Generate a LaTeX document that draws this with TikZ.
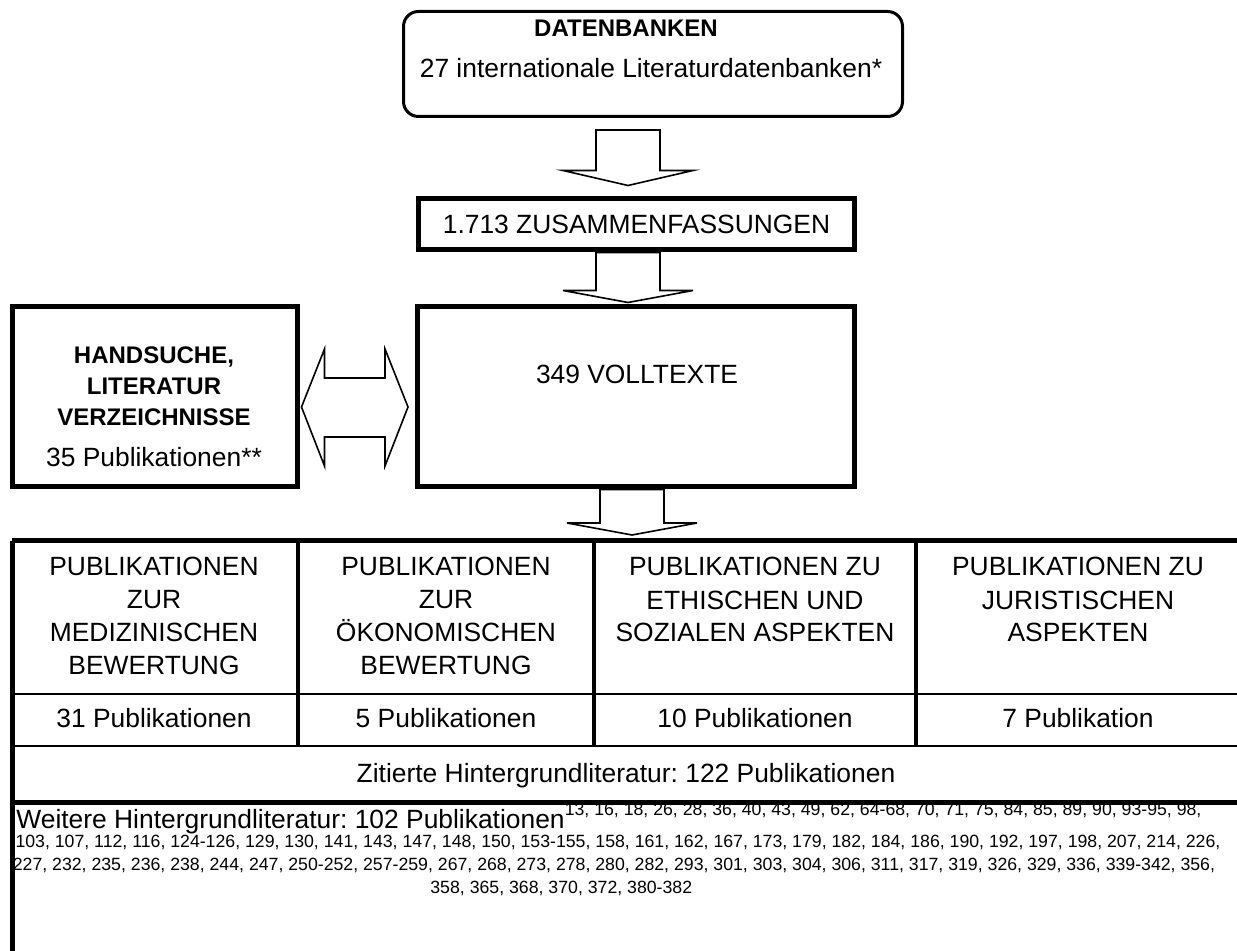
\documentclass[tikz,border=0pt]{standalone}
\usepackage{fontspec}
\setmainfont{Liberation Sans}
\frenchspacing
\usetikzlibrary{calc}

\newcommand{\txtnorm}{\fontsize{13.2}{16.5}\selectfont}
\newcommand{\txtbold}{\fontsize{12}{15.5}\selectfont\bfseries}
\newcommand{\txtsmall}{\fontsize{8.85}{11.5}\selectfont}

% hollow block arrow pointing down: top centre, tip, head length
\newcommand{\blockdown}[3]{%
  \draw[hollow] ($(#1)+(-32,0)$) -- ($(#2)+(-32,-#3)$) -- ($(#2)+(-65,-#3)$) -- (#2)
    -- ($(#2)+(65,-#3)$) -- ($(#2)+(32,-#3)$) -- ($(#1)+(32,0)$) -- cycle;}

% hollow double arrow: left tip, right tip
\newcommand{\blockboth}[2]{%
  \draw[hollow] (#1) -- ($(#1)+(23,-58)$) -- ($(#1)+(23,-29)$) -- ($(#2)+(-23,-29)$)
    -- ($(#2)+(-23,-58)$) -- (#2) -- ($(#2)+(-23,59)$) -- ($(#2)+(-23,30)$)
    -- ($(#1)+(23,30)$) -- ($(#1)+(23,59)$) -- cycle;}

\begin{document}
\begin{tikzpicture}[x=0.5pt, y=-0.5pt,
    every node/.append style={inner sep=0pt, font=\txtnorm},
    roundbox/.style={draw, line width=1.5pt, rounded corners=7.5pt},
    thickbox/.style={draw, line width=2.5pt},
    hollow/.style={draw, line width=0.8pt, line join=miter},
    thickline/.style={line width=2.5pt},
    thinline/.style={line width=0.7pt},
    divline/.style={line width=2.2pt}]
\useasboundingbox (0,0) rectangle (1237,951);
\clip (0,0) rectangle (1237,951);

% databases
\node[roundbox, minimum width=249.5pt, minimum height=52.5pt] (dbank) at (653,64) {};
\node[anchor=base, font=\txtbold] (dbtitle) at (626,37) {DATENBANKEN};
\node[anchor=base] (dbtext) at (651,78) {27 internationale Literaturdatenbanken*};

% abstracts and full texts
\node[thickbox, minimum width=218pt, minimum height=25.5pt] (zus) at (636.5,224.5) {1.713 ZUSAMMENFASSUNGEN};
\node[thickbox, minimum width=218.5pt, minimum height=90pt] (voll) at (636,397) {};
\node[anchor=base] (volltxt) at (637,384) {349 VOLLTEXTE};

% hand search (base = last line)
\node[thickbox, minimum width=142.5pt, minimum height=90pt] (hand) at (154.5,397) {};
\node[anchor=base, font=\txtbold, align=center] (handtitle) at (154,426) {HANDSUCHE,\\LITERATUR\\VERZEICHNISSE};
\node[anchor=base] (handcnt) at (154,467) {35 Publikationen**};

% arrows
\coordinate (tip1) at ($(zus.north)+(-8.5,-11)$);
\coordinate (top1) at ($(tip1 |- dbank.south)+(0,12)$);
\blockdown{top1}{tip1}{15}
\coordinate (top2) at ($(zus.south)+(-8.5,0)$);
\coordinate (tip2) at ($(top2 |- voll.north)+(0,-2)$);
\blockdown{top2}{tip2}{12}
\coordinate (tabtop) at (12,541);
\coordinate (top3) at ($(voll.south)+(-4,0)$);
\coordinate (tip3) at ($(top3 |- tabtop)+(0,-6)$);
\blockdown{top3}{tip3}{12}
\coordinate (dl) at ($(hand.east)+(2,10)$);
\coordinate (dr) at ($(voll.west)+(-7,10)$);
\blockboth{dl}{dr}

% table
\draw[thickline] (tabtop) -- (1260,541);
\draw[thickline] (tabtop) -- (12,970);
\draw[thinline] (12,694) -- (1260,694);
\draw[thinline] (12,746) -- (1260,746);
\draw[thickline] (12,802) -- (1260,802);
\foreach \x in {298,594,916} \draw[divline] (\x,541) -- (\x,746);

\node[anchor=base, align=center] (med) at (154,675) {PUBLIKATIONEN\\ZUR\\MEDIZINISCHEN\\BEWERTUNG};
\node[anchor=base, align=center] (oek) at (446,675) {PUBLIKATIONEN\\ZUR\\ÖKONOMISCHEN\\BEWERTUNG};
\node[anchor=base, align=center] (eth) at (755,642) {PUBLIKATIONEN ZU\\ETHISCHEN UND\\SOZIALEN ASPEKTEN};
\node[anchor=base, align=center] (jur) at (1078,642) {PUBLIKATIONEN ZU\\JURISTISCHEN\\ASPEKTEN};

\foreach \x/\t [count=\i] in {154/31 Publikationen, 446/5 Publikationen, 755/10 Publikationen, 1078/7 Publikation}
  \node[anchor=base] (cnt\i) at (\x,727) {\t};

\node[anchor=base] (zit) at (626,782) {Zitierte Hintergrundliteratur: 122 Publikationen};

% further literature
\node[anchor=base west] (weit) at (16,828) {Weitere Hintergrundliteratur: 102 Publikationen\raisebox{6.5pt}{\txtsmall 13, 16, 18, 26, 28, 36, 40, 43, 49, 62, 64-68, 70, 71, 75, 84, 85, 89, 90, 93-95, 98,}};
\node[anchor=base, font=\txtsmall] (weit2) at (618,847) {103, 107, 112, 116, 124-126, 129, 130, 141, 143, 147, 148, 150, 153-155, 158, 161, 162, 167, 173, 179, 182, 184, 186, 190, 192, 197, 198, 207, 214, 226,};
\node[anchor=base, font=\txtsmall] (weit3) at (614,870) {227, 232, 235, 236, 238, 244, 247, 250-252, 257-259, 267, 268, 273, 278, 280, 282, 293, 301, 303, 304, 306, 311, 317, 319, 326, 329, 336, 339-342, 356,};
\node[anchor=base west, font=\txtsmall] (weit4) at (430,893) {358, 365, 368, 370, 372, 380-382};

\end{tikzpicture}
\end{document}
